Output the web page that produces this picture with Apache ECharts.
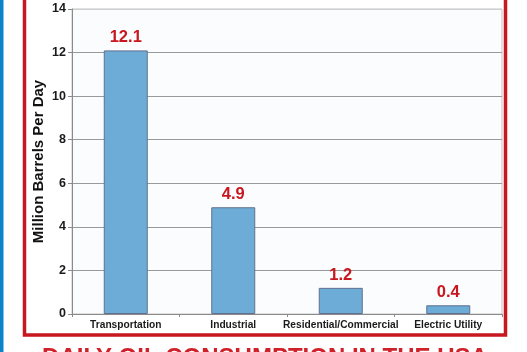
<!DOCTYPE html>
<html>
<head>
<meta charset="utf-8">
<script src="https://cdn.jsdelivr.net/npm/echarts@6/dist/echarts.min.js"></script>
<style>
html,body{margin:0;padding:0;background:#fff;}
#chart{width:527px;height:352px;}
</style>
</head>
<body>
<div id="chart"></div>
<script>
const categories = ['Transportation', 'Industrial', 'Residential/Commercial', 'Electric Utility'];
const consumption = [12.1, 4.9, 1.2, 0.4];
const yAxisName = 'Million Barrels Per Day';
const chartTitle = 'DAILY OIL CONSUMPTION IN THE USA';

const RED = '#c8171e';
const FONT = '"Liberation Sans", Arial, sans-serif';
const chart = echarts.init(document.getElementById('chart'), null, {renderer: 'canvas'});
chart.setOption({
  animation: false,
  backgroundColor: '#ffffff',
  grid: {
    left: 72, right: 25, top: 9, bottom: 38,
    show: true, backgroundColor: '#fbfcfe', borderColor: '#c4c4c4', borderWidth: 1
  },
  xAxis: {
    type: 'category',
    data: categories,
    axisLine: {lineStyle: {color: '#8a8a8a', width: 1}},
    axisTick: {show: true, length: 3, lineStyle: {color: '#8a8a8a'}},
    axisLabel: {
      color: '#1a1a1a', fontFamily: FONT, fontWeight: 'bold',
      fontSize: 10.2, margin: 6, interval: 0
    }
  },
  yAxis: {
    type: 'value', min: 0, max: 14, interval: 2,
    name: yAxisName, nameLocation: 'middle', nameGap: 26, nameMoveOverlap: false,
    nameTextStyle: {color: '#111', fontFamily: FONT, fontWeight: 'bold', fontSize: 15},
    axisLine: {show: true, lineStyle: {color: '#8a8a8a'}},
    axisTick: {show: true, length: 4, lineStyle: {color: '#8a8a8a'}},
    axisLabel: {color: '#1a1a1a', fontFamily: FONT, fontWeight: 'bold', fontSize: 12.5, margin: 6},
    splitLine: {lineStyle: {color: ['#999', '#999', '#999', '#999', '#999', '#999', '#999', '#cfcfcf'], width: 1}}
  },
  series: [{
    type: 'bar',
    data: consumption,
    barWidth: 44,
    itemStyle: {color: '#6cacd6', borderColor: '#60708e', borderWidth: 1},
    label: {
      show: true, position: 'top', distance: 4, color: RED,
      fontFamily: FONT, fontWeight: 'bold', fontSize: 16.5
    }
  }],
  graphic: [
    {type: 'rect', shape: {x: 0, y: 0, width: 3.5, height: 352}, style: {fill: '#0a86c8'}, silent: true},
    {type: 'rect', shape: {x: 24.5, y: -20, width: 481, height: 355}, style: {fill: null, stroke: RED, lineWidth: 3.5}, silent: true},
    {type: 'text', x: 265, y: 346, style: {text: chartTitle, fill: '#d0202a', font: 'bold 24px "Liberation Sans"', textAlign: 'center', textVerticalAlign: 'top'}, silent: true}
  ]
});
</script>
</body>
</html>
